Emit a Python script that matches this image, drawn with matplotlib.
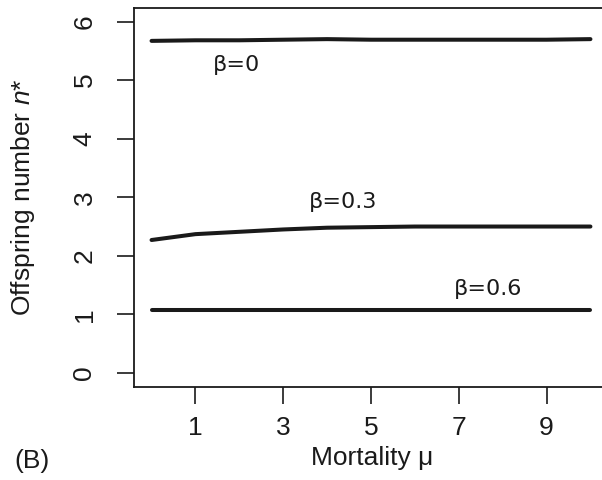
import matplotlib
matplotlib.use("Agg")
import matplotlib.pyplot as plt

plt.rcParams['font.family'] = ['Liberation Sans', 'DejaVu Sans']
plt.rcParams['mathtext.fontset'] = 'custom'
plt.rcParams['mathtext.rm'] = 'Liberation Sans'
plt.rcParams['mathtext.it'] = 'Liberation Sans:italic'

mu = [0, 1, 2, 3, 4, 5, 6, 7, 8, 9, 10]
n_beta0 = [5.67, 5.68, 5.68, 5.69, 5.70, 5.69, 5.69, 5.69, 5.69, 5.69, 5.70]
n_beta03 = [2.27, 2.37, 2.41, 2.45, 2.48, 2.49, 2.50, 2.50, 2.50, 2.50, 2.50]
n_beta06 = [1.08, 1.08, 1.08, 1.08, 1.08, 1.08, 1.08, 1.08, 1.08, 1.08, 1.08]
labels = ["β=0", "β=0.3", "β=0.6"]
label_x = [1.94, 4.36, 7.67]
label_y = [5.26, 2.92, 1.44]
xticks = [1, 3, 5, 7, 9]
yticks = [0, 1, 2, 3, 4, 5, 6]

fig = plt.figure(figsize=(6.02, 4.8), dpi=100)
W, H = 602, 480
ax = fig.add_axes([134 / W, (H - 387) / H, (608 - 134) / W, (387 - 7.5) / H])

for ys in (n_beta0, n_beta03, n_beta06):
    ax.plot(mu, ys, color='#1a1a1a', lw=2.9, solid_capstyle='round')

for t, x, y in zip(labels, label_x, label_y):
    ax.text(x, y, t, fontsize=16, family=['DejaVu Sans'], color='#1a1a1a',
            ha='center', va='center')

ax.set_xlim(-0.4, 10.4)
ax.set_ylim(-0.24, 6.24)
ax.set_xticks(xticks)
ax.set_yticks(yticks)
ax.set_xticklabels([str(v) for v in xticks])
ax.set_yticklabels([str(v) for v in yticks], rotation=90, va='center')
ax.tick_params(axis='both', direction='out', length=12, width=1.2,
               labelsize=19, colors='#1a1a1a')
ax.tick_params(axis='x', pad=9)
ax.tick_params(axis='y', pad=15)
for s in ax.spines.values():
    s.set_linewidth(1.3)
    s.set_color('#1a1a1a')

fig.text(372 / W, 1 - 458 / H, "Mortality μ", fontsize=19, ha='center',
         va='center', color='#1a1a1a')
fig.text(23 / W, 1 - 197 / H, "Offspring number $\\it{n}$*", fontsize=19,
         rotation=90, ha='center', va='center', color='#1a1a1a')
fig.text(14 / W, 1 - 461 / H, "(B)", fontsize=19, ha='left', va='center',
         color='#1a1a1a')

fig.savefig("out.png", dpi=100)
